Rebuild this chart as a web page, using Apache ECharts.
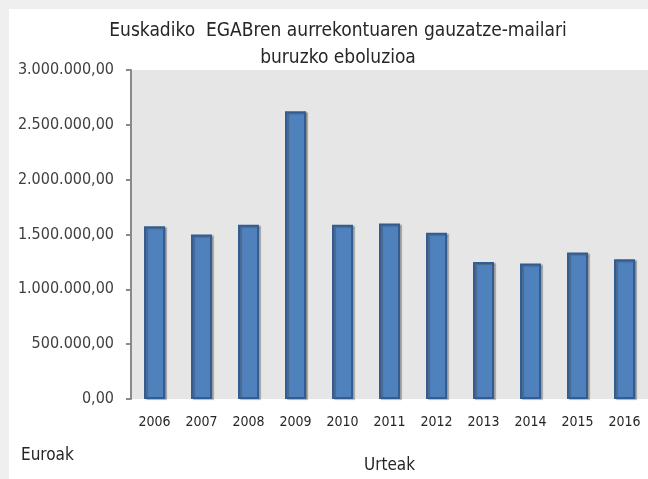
<!DOCTYPE html>
<html>
<head>
<meta charset="utf-8">
<script src="https://cdn.jsdelivr.net/npm/echarts@6/dist/echarts.min.js"></script>
<style>
  html, body { margin: 0; padding: 0; background: #efefef; }
  #chart { position: absolute; left: 9px; top: 9px; width: 639px; height: 470px; background: #ffffff; }
</style>
</head>
<body>
<div id="chart"></div>
<script>
// urteak eta euroak
const years = ["2006", "2007", "2008", "2009", "2010", "2011", "2012", "2013", "2014", "2015", "2016"];
const amounts = [1575000, 1500000, 1590000, 2625000, 1590000, 1600000, 1515000, 1250000, 1235000, 1335000, 1275000];
const yTicks = [0, 500000, 1000000, 1500000, 2000000, 2500000, 3000000];

const fontFam = '"Liberation Sans Narrow", "DejaVu Sans Condensed", "Liberation Sans", sans-serif';

// 3.000.000,00 formatua
function euro(v) {
  return String(v).replace(/\B(?=(\d{3})+(?!\d))/g, ".") + ",00";
}

const chart = echarts.init(document.getElementById("chart"));
chart.setOption({
  animation: false,
  title: {
    text: "Euskadiko  EGABren aurrekontuaren gauzatze-mailari\nburuzko eboluzioa",
    left: 324,
    textAlign: "center",
    top: 4,
    textStyle: { fontFamily: fontFam, fontSize: 19, fontWeight: "normal", color: "#262626", lineHeight: 27 }
  },
  grid: {
    left: 122, right: -4, top: 61, height: 335,
    show: true, backgroundColor: "#e6e6e6", borderWidth: 0
  },
  xAxis: {
    type: "category",
    data: years,
    axisLine: { show: false },
    axisTick: { show: false },
    axisLabel: { color: "#262626", fontFamily: fontFam, fontSize: 14, margin: 16 },
    name: "Urteak",
    nameLocation: "middle",
    nameGap: 58,
    nameTextStyle: { color: "#262626", fontFamily: fontFam, fontSize: 17 }
  },
  yAxis: {
    type: "value",
    min: yTicks[0],
    max: yTicks[yTicks.length - 1],
    interval: yTicks[1] - yTicks[0],
    axisLine: { show: true, lineStyle: { color: "#8a8a8a", width: 2 } },
    axisTick: { show: true, length: 5, lineStyle: { color: "#8a8a8a", width: 2 } },
    splitLine: { show: false },
    axisLabel: { color: "#404040", fontFamily: fontFam, fontSize: 16, margin: 17, formatter: euro }
  },
  graphic: [{
    type: "text",
    left: 12,
    top: 438,
    style: { text: "Euroak", fill: "#262626", font: "17px " + fontFam }
  }],
  series: [{
    type: "bar",
    data: amounts,
    barWidth: 21,
    itemStyle: {
      color: "#4f81bd",
      borderColor: "#335d91",
      borderWidth: 2,
      shadowColor: "rgba(60,60,60,0.35)",
      shadowOffsetX: 2,
      shadowOffsetY: 1,
      shadowBlur: 1
    }
  }]
});
</script>
</body>
</html>
